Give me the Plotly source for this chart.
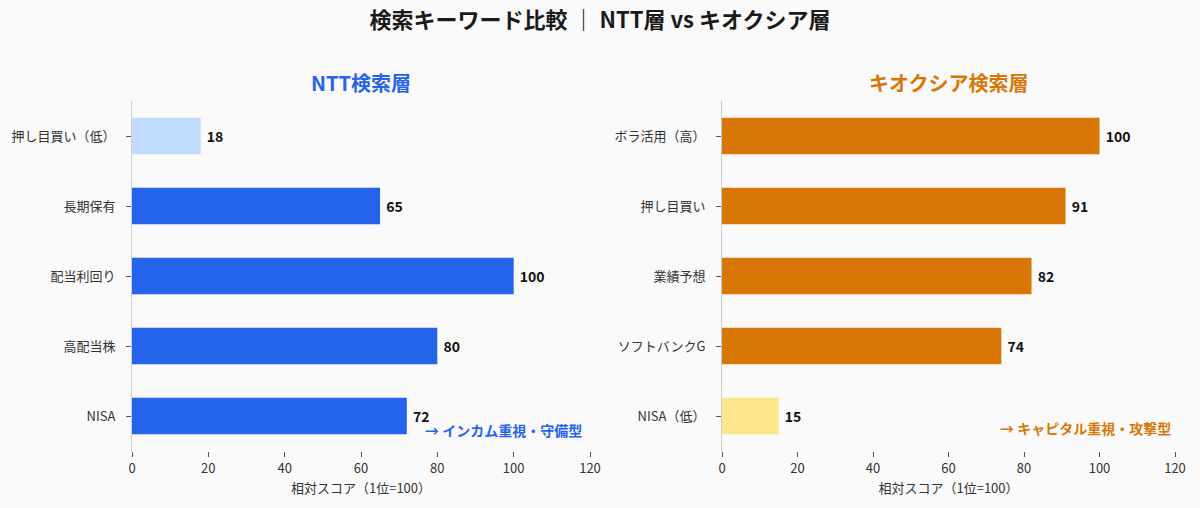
import plotly.graph_objects as go
from plotly.subplots import make_subplots

# data
ntt_labels = ["押し目買い（低）", "長期保有", "配当利回り", "高配当株", "NISA"]
ntt_scores = [18, 65, 100, 80, 72]
ntt_colors = ["#BFDBFE", "#2563EB", "#2563EB", "#2563EB", "#2563EB"]

kx_labels = ["ボラ活用（高）", "押し目買い", "業績予想", "ソフトバンクG", "NISA（低）"]
kx_scores = [100, 91, 82, 74, 15]
kx_colors = ["#D97706", "#D97706", "#D97706", "#D97706", "#FDE68A"]

x_ticks = [0, 20, 40, 60, 80, 100, 120]

FONT = "Noto Sans CJK JP"
BLUE = "#2563EB"
ORANGE = "#D97706"
BG = "#FAFAFA"
W, H = 1200, 508

fig = make_subplots(rows=1, cols=2, horizontal_spacing=0.11)

fig.add_trace(go.Bar(
    y=ntt_labels, x=ntt_scores, orientation="h",
    marker=dict(color=ntt_colors, line=dict(width=0)),
    width=0.52,
    text=[f" <b>{v}</b>" for v in ntt_scores], textposition="outside",
    textfont=dict(size=14, color="#111"), cliponaxis=False,
), row=1, col=1)

fig.add_trace(go.Bar(
    y=kx_labels, x=kx_scores, orientation="h",
    marker=dict(color=kx_colors, line=dict(width=0)),
    width=0.52,
    text=[f" <b>{v}</b>" for v in kx_scores], textposition="outside",
    textfont=dict(size=14, color="#111"), cliponaxis=False,
), row=1, col=2)

left_dom = [132 / W, 590 / W]
right_dom = [722 / W, 1175 / W]
y_dom = [1 - 451 / H, 1 - 101 / H]

for i, dom in enumerate([left_dom, right_dom], start=1):
    fig.update_xaxes(
        domain=dom, range=[0, 120], tickvals=x_ticks,
        showline=False, showgrid=False, zeroline=False,
        ticks="outside", ticklen=5, tickcolor="#555",
        tickfont=dict(size=13, color="#333"),
        title=dict(text="相対スコア（1位=100）", font=dict(size=13, color="#333"), standoff=8),
        automargin=False,
        row=1, col=i,
    )
    fig.update_yaxes(
        domain=y_dom, autorange="reversed",
        showline=True, linecolor="#CCCCCC", linewidth=1,
        showgrid=False, zeroline=False,
        ticks="outside", ticklen=5, tickcolor="#555",
        ticklabelstandoff=8,
        tickfont=dict(size=13, color="#333"),
        automargin=False,
        row=1, col=i,
    )

# panel titles
fig.add_annotation(x=sum(left_dom) / 2, y=1 - 83 / H, xref="paper", yref="paper",
                   text="<b>NTT検索層</b>", showarrow=False,
                   xanchor="center", yanchor="middle",
                   font=dict(size=20, color=BLUE))
fig.add_annotation(x=sum(right_dom) / 2, y=1 - 83 / H, xref="paper", yref="paper",
                   text="<b>キオクシア検索層</b>", showarrow=False,
                   xanchor="center", yanchor="middle",
                   font=dict(size=20, color=ORANGE))

# notes
fig.add_annotation(x=584 / W, y=1 - 430 / H, xref="paper", yref="paper",
                   text="<b>→ インカム重視・守備型</b>", showarrow=False,
                   xanchor="right", yanchor="middle",
                   font=dict(size=14, color=BLUE))
fig.add_annotation(x=1173 / W, y=1 - 428 / H, xref="paper", yref="paper",
                   text="<b>→ キャピタル重視・攻撃型</b>", showarrow=False,
                   xanchor="right", yanchor="middle",
                   font=dict(size=14, color=ORANGE))

fig.update_layout(
    width=W, height=H,
    title=dict(text="<b>検索キーワード比較 ｜ NTT層 vs キオクシア層</b>",
               x=0.5, xanchor="center", y=1 - 20 / H, yanchor="middle",
               font=dict(size=22, color="#1a1a1a")),
    font=dict(family=FONT, color="#333"),
    paper_bgcolor=BG, plot_bgcolor=BG,
    showlegend=False,
    margin=dict(l=0, r=0, t=0, b=0, pad=0),
)

fig.write_html(
    "out.html",
    config={"displayModeBar": False},
    post_script="document.body.style.margin='0';document.body.style.overflow='hidden';"
                "document.body.style.background='" + BG + "';",
)
